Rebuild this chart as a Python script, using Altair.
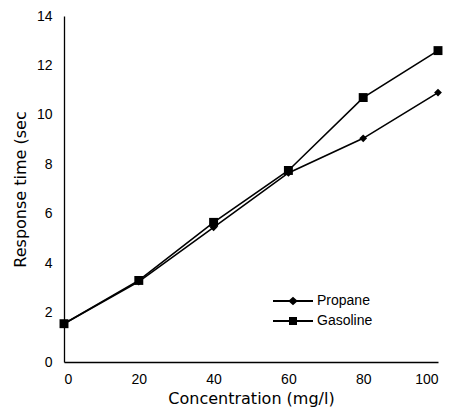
import altair as alt
import pandas as pd

concentration = [0, 20, 40, 60, 80, 100]
propane = [1.55, 3.25, 5.45, 7.65, 9.05, 10.9]
gasoline = [1.55, 3.3, 5.65, 7.75, 10.7, 12.6]
series_names = ["Propane", "Gasoline"]

rows = []
for c, p, g in zip(concentration, propane, gasoline):
    rows.append({"Concentration": c, "Response": p, "Series": "Propane"})
    rows.append({"Concentration": c, "Response": g, "Series": "Gasoline"})
df = pd.DataFrame(rows)

FONT = "Liberation Sans"
TFONT = "DejaVu Sans"

x = alt.X("Concentration:Q", title="Concentration (mg/l)",
          scale=alt.Scale(domain=[0, 100], nice=False),
          axis=alt.Axis(values=[0, 20, 40, 60, 80, 100], grid=False, ticks=False,
                        labelFlush=True, labelPadding=10, titlePadding=4, domainWidth=1.3))
y = alt.Y("Response:Q", title="Response time (sec",
          scale=alt.Scale(domain=[0, 14], nice=False),
          axis=alt.Axis(values=[0, 2, 4, 6, 8, 10, 12, 14], grid=False, ticks=False,
                        labelPadding=12, titlePadding=8, domainWidth=1.3))

lines = alt.Chart(df).mark_line(color="black", strokeWidth=1.6).encode(
    x=x, y=y, detail="Series:N")

points = alt.Chart(df).mark_point(filled=True, color="black", opacity=1).encode(
    x=x, y=y,
    shape=alt.Shape("Series:N", scale=alt.Scale(domain=series_names, range=["diamond", "square"]),
                    legend=None),
    size=alt.Size("Series:N", scale=alt.Scale(domain=series_names, range=[60, 80]), legend=None))

legend_paths = [
    "M-4,-0.18H4V0.18H-4Z M0,-0.85L0.95,0L0,0.85L-0.95,0Z",
    "M-4,-0.18H4V0.18H-4Z M-0.8,-0.8H0.8V0.8H-0.8Z",
]
legend_layer = alt.Chart(df).mark_point(filled=True, color="black", opacity=0).encode(
    x=x, y=y,
    shape=alt.Shape("Series:N", scale=alt.Scale(domain=series_names, range=legend_paths),
                    legend=alt.Legend(title=None, orient="none", legendX=222, legendY=278,
                                      symbolOpacity=1, symbolFillColor="black",
                                      symbolStrokeWidth=0, labelFontSize=14, labelFont=FONT,
                                      labelColor="black", rowPadding=6, labelOffset=17)))

chart = alt.layer(lines, points, legend_layer).resolve_scale(
    shape="independent", size="independent"
).properties(
    width=374, height=346,
    autosize=alt.AutoSizeParams(type="none"),
    padding={"left": 56, "top": 8, "right": 5, "bottom": 49},
).configure_view(stroke=None).configure_axis(
    labelFont=FONT, titleFont=TFONT, labelFontSize=14, titleFontSize=16,
    titleFontWeight="normal", labelColor="black", titleColor="black",
    domainColor="black", tickColor="black"
)

chart.save("out.html", embed_options={"renderer": "svg", "actions": False})
